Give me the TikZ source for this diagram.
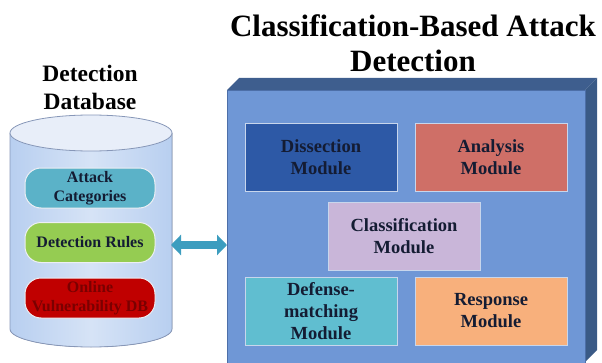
\documentclass[tikz,border=0pt]{standalone}
\usepackage{fontspec}
\setmainfont{Liberation Serif}
\usetikzlibrary{arrows.meta, positioning}
\definecolor{facefront}{HTML}{6F97D6}
\definecolor{faceedge}{HTML}{4D6FA8}
\definecolor{facetop}{HTML}{3E5E8E}
\definecolor{faceside}{HTML}{3A5A86}
\definecolor{modedge}{HTML}{C8D6EC}
\definecolor{modtext}{HTML}{141C33}
\definecolor{dissectblue}{HTML}{2D59A6}
\definecolor{analysisred}{HTML}{CF6F67}
\definecolor{classlilac}{HTML}{C9B6D9}
\definecolor{defenseteal}{HTML}{60BED0}
\definecolor{responsepeach}{HTML}{F8B07C}
\definecolor{cylside}{HTML}{B8CFF0}
\definecolor{cylmid}{HTML}{D6E3F6}
\definecolor{cyltop}{HTML}{E8EEF9}
\definecolor{cyledge}{HTML}{8797B8}
\definecolor{pillteal}{HTML}{5BB2C8}
\definecolor{pillgreen}{HTML}{95CC52}
\definecolor{pillred}{HTML}{C00000}
\definecolor{pillredtext}{HTML}{7A0000}
\definecolor{arrowteal}{HTML}{3C9DBF}

\begin{document}
\begin{tikzpicture}[x=1pt, y=1pt,
  module/.style={rectangle, draw=modedge, line width=0.8pt, minimum width=152pt, minimum height=68pt, inner sep=1pt, align=center, text=modtext, font=\bfseries\fontsize{18.5}{22}\selectfont},
  pill/.style={rectangle, rounded corners=16pt, draw=white!85!cyledge, line width=1pt, minimum width=130pt, minimum height=40pt, inner sep=0pt, align=center, text=modtext, font=\bfseries\fontsize{16}{19.5}\selectfont},
  heading/.style={align=center, font=\bfseries}]
\useasboundingbox (0,0) rectangle (602,362);

% Database cylinder
\fill[left color=cylside, right color=cylside, middle color=cylmid] (10,229) -- (10,33) arc[start angle=180, end angle=360, x radius=81pt, y radius=18pt] -- (172,229) -- cycle;
\draw[cyledge, line width=0.8pt] (10,229) -- (10,33) arc[start angle=180, end angle=360, x radius=81pt, y radius=18pt] -- (172,229);
\draw[cyledge, line width=0.8pt, fill=cyltop] (91,229) ellipse[x radius=81pt, y radius=18pt];
\coordinate (dbport) at (171,117);

% Database contents
\node[pill, fill=pillteal] (categories) at (90,174) {Attack\\Categories};
\node[pill, fill=pillgreen] (rules) at (90,119.5) {Detection Rules};
\node[pill, fill=pillred, text=pillredtext] (vulndb) at (90,64) {Online\\Vulnerability DB};

% 3D engine block
\fill[facetop] (227,272) -- (239,284) -- (597,284) -- (585,272) -- cycle;
\fill[faceside] (585,272) -- (597,284) -- (597,12) -- (585,0) -- cycle;
\node[rectangle, draw=faceedge, fill=facefront, line width=0.8pt, minimum width=358pt, minimum height=277pt, inner sep=0pt, anchor=north west] (engine) at (227,272) {};

% Modules
\node[module, fill=dissectblue] (dissection) at (321,205) {Dissection\\Module};
\node[module, fill=analysisred] (analysis) at (491,205) {Analysis\\Module};
\node[module, fill=classlilac] (classification) at (404,126) {Classification\\Module};
\node[module, fill=defenseteal] (defense) at (321,51) {Defense-\\matching\\Module};
\node[module, fill=responsepeach] (response) at (491,51) {Response\\Module};

% Titles
\node[heading, font=\bfseries\fontsize{31}{35}\selectfont] (enginetitle) at (413,319) {Classification-Based Attack\\Detection};
\node[heading, font=\bfseries\fontsize{23.5}{28}\selectfont] (dbtitle) at (90,275) {Detection\\Database};

% Link between database and engine
\draw[arrowteal, line width=8pt, {Triangle[length=10pt, width=20pt]}-{Triangle[length=10pt, width=20pt]}] (dbport) -- (engine.west |- dbport);
\end{tikzpicture}
\end{document}
